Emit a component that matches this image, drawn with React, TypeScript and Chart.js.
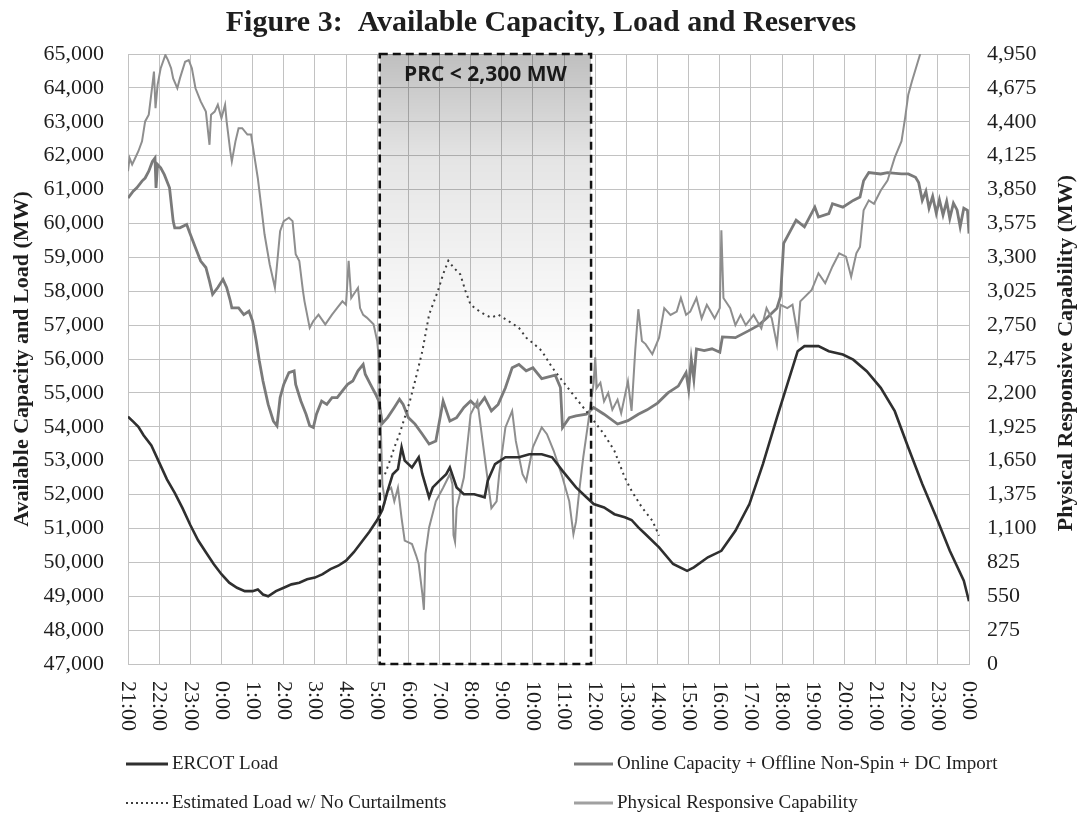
import { useEffect, useRef } from "react";
import { Chart, registerables } from "chart.js";

Chart.register(...registerables);

// ---- Data (times are minutes after 21:00 on the first day) ----
const hourLabels = [
  "21:00", "22:00", "23:00", "0:00", "1:00", "2:00", "3:00", "4:00", "5:00", "6:00",
  "7:00", "8:00", "9:00", "10:00", "11:00", "12:00", "13:00", "14:00", "15:00", "16:00",
  "17:00", "18:00", "19:00", "20:00", "21:00", "22:00", "23:00", "0:00",
];

const leftTicks = { min: 47000, max: 65000, step: 1000 };
const rightTicks = { min: 0, max: 4950, step: 275 };

// Window in which PRC < 2,300 MW (minutes after 21:00)
const prcWindow = [485, 892];

const loadMinutes = [
  0, 10, 20, 30, 45, 60, 75, 90, 105, 120, 135, 150, 165, 180, 195, 210, 225, 240, 250, 260,
  270, 285, 300, 315, 330, 345, 360, 375, 390, 405, 420, 435, 450, 465, 480, 490, 500, 510, 520, 527,
  533, 547, 560, 567, 580, 587, 600, 613, 620, 633, 647, 667, 687, 693, 707, 727, 753, 773, 797, 817,
  837, 863, 883, 897, 917, 937, 957, 970, 983, 997, 1023, 1050, 1077, 1090, 1117, 1143, 1170, 1197, 1223, 1250,
  1270, 1290, 1303, 1330, 1350, 1377, 1397, 1423, 1450, 1477, 1503, 1530, 1557, 1583, 1610, 1620,
];
const loadMW = [
  54300, 54150, 54000, 53750, 53450, 52950, 52450, 52050, 51600, 51100, 50650, 50300, 49950, 49650, 49400, 49250, 49150, 49150, 49200, 49050,
  49000, 49150, 49250, 49350, 49400, 49500, 49550, 49650, 49800, 49900, 50050, 50300, 50600, 50900, 51250, 51550, 52100, 52600, 52750, 53390,
  53000, 52800, 53100, 52600, 51920, 52210, 52410, 52600, 52800, 52210, 52010, 52010, 51920, 52410, 52900, 53100, 53100, 53190, 53190, 53100,
  52700, 52210, 51920, 51720, 51620, 51420, 51330, 51250, 51030, 50830, 50440, 49950, 49750, 49850, 50150, 50340, 50930, 51720, 52900, 54270,
  55250, 56230, 56380, 56380, 56230, 56130, 55980, 55640, 55150, 54460, 53390, 52310, 51330, 50340, 49460, 48850,
];

const capacityMinutes = [
  0, 10, 17, 27, 33, 40, 47, 52, 54, 57, 63, 70, 80, 87, 90, 100, 113, 120, 130, 140,
  150, 157, 163, 173, 183, 190, 197, 200, 213, 223, 233, 240, 247, 253, 260, 270, 280, 287, 293, 300,
  310, 320, 323, 333, 343, 350, 357, 363, 373, 383, 393, 403, 413, 423, 433, 443, 453, 457, 467, 477,
  483, 490, 500, 513, 523, 530, 540, 553, 567, 580, 593, 607, 620, 633, 647, 660, 673, 687, 700, 713,
  727, 740, 753, 767, 780, 797, 823, 833, 837, 850, 863, 883, 897, 917, 943, 963, 983, 1000, 1020, 1040,
  1060, 1075, 1080, 1085, 1090, 1095, 1110, 1125, 1140, 1145, 1170, 1195, 1215, 1230, 1250, 1257, 1263, 1287, 1303, 1323,
  1330, 1350, 1357, 1377, 1397, 1410, 1417, 1427, 1450, 1463, 1490, 1503, 1517, 1523, 1530, 1537, 1543, 1550, 1557, 1563,
  1570, 1577, 1583, 1590, 1597, 1603, 1610, 1617, 1620,
];
const capacityMW = [
  60750, 60950, 61050, 61250, 61340, 61540, 61830, 61930, 61050, 61740, 61640, 61440, 61050, 60070, 59870, 59870, 59970, 59680, 59280, 58890,
  58700, 58300, 57910, 58110, 58350, 58110, 57720, 57510, 57510, 57310, 57410, 57120, 56530, 55940, 55350, 54660, 54170, 54030, 54860, 55250,
  55600, 55650, 55250, 54760, 54370, 54030, 53980, 54370, 54760, 54660, 54860, 54860, 55060, 55250, 55350, 55650, 55840, 55550, 55250, 54960,
  54760, 54100, 54270, 54570, 54810, 54660, 54270, 54080, 53780, 53490, 53580, 54760, 54170, 54270, 54570, 54760, 54570, 54860, 54470, 54660,
  55150, 55740, 55840, 55650, 55740, 55420, 55520, 55160, 53980, 54270, 54320, 54370, 54570, 54370, 54080, 54180, 54370, 54500, 54700, 55000,
  55200, 55600, 55100, 56000, 55400, 56300, 56250, 56300, 56200, 56650, 56630, 56830, 57000, 57200, 57500, 57850, 59410, 60100, 59900, 60480,
  60190, 60290, 60580, 60480, 60680, 60780, 61260, 61500, 61460, 61500, 61460, 61460, 61360, 61210, 60680, 60950, 60450, 60800, 60300, 60700,
  60250, 60650, 60150, 60600, 60400, 59900, 60450, 60390, 59700,
];

const estimatedMinutes = [
  495, 507, 513, 523, 533, 543, 553, 567, 580, 597, 607, 617, 627, 640, 650, 660, 673, 687, 700, 713,
  733, 753, 767, 783, 797, 817, 837, 857, 877, 897, 917, 937, 957, 970, 990, 1010, 1023,
];
const estimatedMW = [
  52600, 53100, 53390, 53780, 54270, 54760, 55350, 56230, 57310, 58010, 58500, 58900, 58700, 58500, 58010, 57600, 57450, 57310, 57220, 57310,
  57120, 56920, 56630, 56430, 56240, 55750, 55350, 54960, 54570, 54180, 53780, 53290, 52500, 52110, 51620, 51230, 50790,
];

const prcMinutes = [
  0, 3, 8, 13, 20, 27, 33, 40, 47, 50, 53, 57, 63, 72, 77, 83, 87, 95, 100, 110,
  117, 123, 130, 140, 150, 157, 160, 167, 173, 180, 187, 190, 197, 200, 207, 213, 220, 230, 237, 243,
  250, 257, 263, 273, 283, 293, 300, 310, 317, 323, 330, 337, 340, 350, 357, 367, 380, 393, 403, 413,
  420, 425, 430, 443, 447, 453, 460, 473, 480, 483, 485, 487, 490, 495, 500, 507, 513, 520, 527, 533,
  547, 555, 560, 567, 570, 573, 580, 593, 607, 620, 625, 627, 630, 633, 647, 660, 673, 683, 700, 710,
  715, 727, 740, 747, 760, 767, 780, 797, 807, 820, 837, 850, 858, 863, 870, 877, 887, 893, 897, 900,
  903, 910, 917, 925, 933, 943, 950, 963, 970, 977, 983, 990, 997, 1010, 1023, 1033, 1045, 1057, 1065, 1075,
  1083, 1095, 1105, 1115, 1130, 1140, 1143, 1147, 1160, 1170, 1180, 1190, 1205, 1220, 1230, 1240, 1250, 1257, 1270, 1280,
  1290, 1295, 1317, 1330, 1343, 1357, 1370, 1383, 1393, 1403, 1410, 1417, 1427, 1437, 1450, 1463, 1477, 1490, 1497, 1503,
  1510, 1526,
];
const prcMW = [
  3999, 4106, 4054, 4098, 4161, 4241, 4403, 4458, 4700, 4807, 4510, 4700, 4835, 4942, 4901, 4835, 4752, 4672, 4752, 4887,
  4901, 4835, 4672, 4565, 4483, 4213, 4458, 4483, 4538, 4430, 4538, 4403, 4161, 4078, 4241, 4348, 4348, 4296, 4296, 4133,
  3944, 3702, 3487, 3242, 3055, 3512, 3594, 3622, 3594, 3325, 3270, 3028, 2943, 2728, 2783, 2835, 2756, 2835, 2890, 2943,
  2915, 3272, 2970, 3053, 2888, 2833, 2811, 2756, 2621, 2486, 2189, 1920, 1458, 1320, 1403, 1430, 1320, 1430, 1183, 1001,
  974, 880, 811, 569, 440, 894, 1108, 1320, 1430, 1540, 1458, 1045, 990, 1265, 1513, 2027, 2134, 1810, 1265, 1320,
  1540, 1920, 2054, 1810, 1540, 1485, 1760, 1920, 1865, 1730, 1513, 1320, 1053, 1155, 1433, 1678, 1975, 2164, 2283, 2489,
  2241, 2283, 2131, 2200, 2063, 2145, 2035, 2294, 2054, 2541, 2879, 2621, 2596, 2514, 2648, 2888, 2833, 2860, 2970, 2833,
  2860, 2970, 2805, 2915, 2805, 2888, 3520, 2970, 2888, 2750, 2833, 2750, 2833, 2723, 2888, 2805, 2593, 2915, 2888, 2915,
  2668, 2943, 3036, 3171, 3091, 3226, 3333, 3306, 3143, 3333, 3385, 3682, 3762, 3735, 3842, 3922, 4111, 4243, 4433, 4620,
  4727, 4950,
];

const titleText = "Figure 3:  Available Capacity, Load and Reserves";
const leftAxisTitle = "Available Capacity and Load (MW)";
const rightAxisTitle = "Physical Responsive Capability (MW)";
const windowLabel = "PRC < 2,300 MW";

const seriesNames = [
  "ERCOT Load",
  "Online Capacity + Offline Non-Spin + DC Import",
  "Estimated Load w/ No Curtailments",
  "Physical Responsive Capability",
];

const toPoints = (mins: number[], vals: number[]) =>
  mins.map((m, i) => ({ x: m / 60, y: vals[i] }));

const SERIF = '"Liberation Serif", "Times New Roman", serif';
const TEXT = "#1e1e1e";
const GRID = "#c2c2c2";

const COLORS = {
  load: "#2f2f2f",
  capacity: "#7a7a7a",
  estimated: "#3c3c3c",
  prc: "#8e8e8e",
};

export default function App() {
  const ref = useRef<HTMLCanvasElement | null>(null);

  useEffect(() => {
    const canvas = ref.current;
    if (!canvas) return;

    const overlay = {
      id: "overlay",
      beforeDatasetsDraw(chart: any) {
        const { ctx, chartArea, scales } = chart;
        const x1 = scales.x.getPixelForValue(prcWindow[0] / 60);
        const x2 = scales.x.getPixelForValue(prcWindow[1] / 60);
        const top = chartArea.top;
        const bottom = chartArea.bottom;
        const g = ctx.createLinearGradient(0, top, 0, top + (bottom - top) * 0.5);
        g.addColorStop(0, "rgba(0,0,0,0.25)");
        g.addColorStop(0.35, "rgba(0,0,0,0.10)");
        g.addColorStop(1, "rgba(0,0,0,0)");
        ctx.save();
        ctx.fillStyle = g;
        ctx.fillRect(x1, top, x2 - x1, bottom - top);
        ctx.restore();
      },
      afterDatasetsDraw(chart: any) {
        const { ctx, chartArea, scales } = chart;
        const x1 = scales.x.getPixelForValue(prcWindow[0] / 60);
        const x2 = scales.x.getPixelForValue(prcWindow[1] / 60);
        const top = scales.y.getPixelForValue(leftTicks.max);
        const bottom = scales.y.getPixelForValue(leftTicks.min);
        ctx.save();
        ctx.strokeStyle = "#111";
        ctx.lineWidth = 2.5;
        ctx.setLineDash([8, 5]);
        ctx.strokeRect(x1, top, x2 - x1, bottom - top);
        ctx.setLineDash([]);
        ctx.fillStyle = "#1a1a1a";
        ctx.font = 'bold 21px "Open Sans", "Liberation Sans", sans-serif';
        ctx.textAlign = "center";
        ctx.textBaseline = "middle";
        ctx.fillText(windowLabel, (x1 + x2) / 2, chartArea.top + 21);
        ctx.restore();
      },
      afterDraw(chart: any) {
        const { ctx, chartArea, scales, width } = chart;
        ctx.save();
        // Title
        ctx.fillStyle = TEXT;
        ctx.font = `bold 30px ${SERIF}`;
        ctx.textAlign = "center";
        ctx.textBaseline = "alphabetic";
        ctx.fillText(titleText, width / 2 + 2, 31);

        // X labels, rotated clockwise
        ctx.font = `22px ${SERIF}`;
        hourLabels.forEach((lab, i) => {
          const x = scales.x.getPixelForValue(i);
          ctx.save();
          ctx.translate(x, chartArea.bottom + 17);
          ctx.rotate(Math.PI / 2);
          ctx.textAlign = "left";
          ctx.textBaseline = "middle";
          ctx.fillText(lab, 0, 0);
          ctx.restore();
        });

        // Axis titles
        const midY = (chartArea.top + chartArea.bottom) / 2;
        ctx.font = `bold 22px ${SERIF}`;
        ctx.textAlign = "center";
        ctx.textBaseline = "middle";
        ctx.save();
        ctx.translate(22, midY);
        ctx.rotate(-Math.PI / 2);
        ctx.fillText(leftAxisTitle, 0, 0);
        ctx.restore();
        ctx.save();
        ctx.translate(1066, midY - 6);
        ctx.rotate(-Math.PI / 2);
        ctx.fillText(rightAxisTitle, 0, 0);
        ctx.restore();

        // Legend
        const rows = [764, 803];
        const cols = [126, 574];
        const lineLen = [42, 39];
        const styles = [
          { c: COLORS.load, w: 3, d: [] as number[] },
          { c: COLORS.capacity, w: 3, d: [] as number[] },
          { c: COLORS.estimated, w: 2, d: [2, 3] },
          { c: "#a0a0a0", w: 3, d: [] as number[] },
        ];
        ctx.font = `19px ${SERIF}`;
        ctx.textAlign = "left";
        ctx.textBaseline = "middle";
        seriesNames.forEach((name, i) => {
          const r = Math.floor(i / 2);
          const c = i % 2;
          const y = rows[r];
          const x0 = cols[c];
          const s = styles[i];
          ctx.beginPath();
          ctx.strokeStyle = s.c;
          ctx.lineWidth = s.w;
          ctx.setLineDash(s.d);
          ctx.moveTo(x0, y);
          ctx.lineTo(x0 + lineLen[c], y);
          ctx.stroke();
          ctx.setLineDash([]);
          ctx.fillStyle = TEXT;
          ctx.fillText(name, x0 + lineLen[c] + 4, y);
        });
        ctx.restore();
      },
    };

    const chart = new Chart(canvas, {
      type: "line",
      data: {
        datasets: [
          {
            label: seriesNames[0],
            data: toPoints(loadMinutes, loadMW),
            yAxisID: "y",
            borderColor: COLORS.load,
            borderWidth: 2.6,
            pointRadius: 0,
            tension: 0,
          },
          {
            label: seriesNames[2],
            data: toPoints(estimatedMinutes, estimatedMW),
            yAxisID: "y",
            borderColor: COLORS.estimated,
            borderWidth: 2,
            borderDash: [2, 4],
            pointRadius: 0,
            tension: 0,
          },
          {
            label: seriesNames[3],
            data: toPoints(prcMinutes, prcMW),
            yAxisID: "y1",
            borderColor: COLORS.prc,
            borderWidth: 2,
            pointRadius: 0,
            tension: 0,
          },
          {
            label: seriesNames[1],
            data: toPoints(capacityMinutes, capacityMW),
            yAxisID: "y",
            borderColor: COLORS.capacity,
            borderWidth: 2.8,
            pointRadius: 0,
            tension: 0,
          },
        ],
      },
      options: {
        responsive: false,
        animation: false,
        devicePixelRatio: 1,
        events: [],
        layout: { padding: { top: 54, left: 0, right: 0, bottom: 0 } },
        plugins: {
          legend: { display: false },
          title: { display: false },
          tooltip: { enabled: false },
        },
        scales: {
          x: {
            type: "linear",
            min: 0,
            max: hourLabels.length - 1,
            ticks: { stepSize: 1, display: false },
            grid: { color: GRID, drawTicks: false, lineWidth: 1 },
            border: { display: true, color: GRID },
            afterFit: (s: any) => {
              s.height = 151;
            },
          },
          y: {
            position: "left",
            min: leftTicks.min,
            max: leftTicks.max,
            ticks: {
              stepSize: leftTicks.step,
              padding: 24,
              color: TEXT,
              font: { family: SERIF, size: 22 },
              callback: (v: any) => Number(v).toLocaleString("en-US"),
            },
            grid: { color: GRID, drawTicks: false, lineWidth: 1 },
            border: { display: true, color: GRID },
            afterFit: (s: any) => {
              s.width = 128;
            },
          },
          y1: {
            position: "right",
            min: rightTicks.min,
            max: rightTicks.max,
            ticks: {
              stepSize: rightTicks.step,
              padding: 18,
              color: TEXT,
              font: { family: SERIF, size: 22 },
              callback: (v: any) => Number(v).toLocaleString("en-US"),
            },
            grid: { display: false, drawTicks: false },
            border: { display: true, color: GRID },
            afterFit: (s: any) => {
              s.width = 109;
            },
          },
        },
      },
      plugins: [overlay],
    } as any);

    return () => chart.destroy();
  }, []);

  return (
    <div style={{ position: "absolute", left: 0, top: 0, width: 1078, height: 815, background: "#fff" }}>
      <canvas ref={ref} width={1078} height={815} style={{ width: 1078, height: 815, display: "block" }} />
    </div>
  );
}
